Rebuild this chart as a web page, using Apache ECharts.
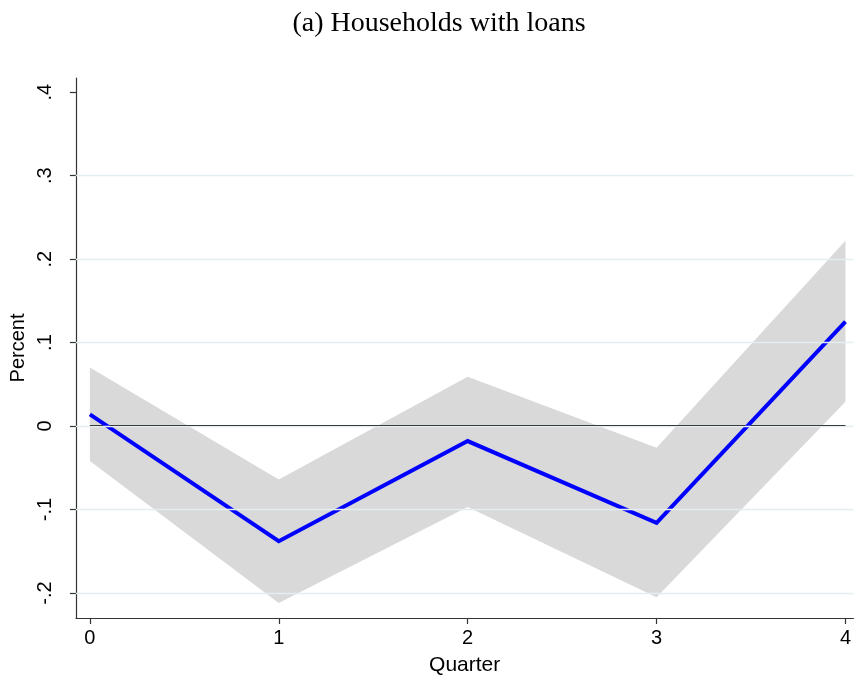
<!DOCTYPE html>
<html>
<head>
<meta charset="utf-8">
<script src="https://cdn.jsdelivr.net/npm/echarts@6/dist/echarts.min.js"></script>
<style>
html,body{margin:0;padding:0;background:#fff;}
#chart{width:854px;height:681px;}
</style>
</head>
<body>
<div id="chart"></div>
<script>
const quarters = [0, 1, 2, 3, 4];
const estimate = [0.014, -0.138, -0.018, -0.116, 0.125];
const upper = [0.070, -0.064, 0.059, -0.026, 0.222];
const lower = [-0.042, -0.212, -0.097, -0.205, 0.029];
const yTickValues = [-0.2, -0.1, 0, 0.1, 0.2, 0.3, 0.4];
const yTickLabels = ['-.2', '-.1', '0', '.1', '.2', '.3', '.4'];
const gridValues = [-0.2, -0.1, 0, 0.1, 0.2, 0.3];
const xTickLabels = ['0', '1', '2', '3', '4'];

const bandData = quarters.map((q, i) => [q, lower[i], upper[i]]);
const lineData = quarters.map((q, i) => [q, estimate[i]]);
const zeroData = [[quarters[0], 0], [quarters[quarters.length - 1], 0]];

const chart = echarts.init(document.getElementById('chart'), null, {renderer: 'canvas'});
const labelFont = '"Liberation Sans", Arial, sans-serif';

chart.setOption({
  animation: false,
  backgroundColor: '#ffffff',
  title: {
    text: '(a) Households with loans',
    left: 434,
    top: 5,
    textAlign: 'center',
    textStyle: {fontFamily: '"Liberation Serif", "Times New Roman", serif', fontSize: 28, fontWeight: 'normal', color: '#000'}
  },
  grid: {left: 74, top: 78, right: 0, bottom: 62, containLabel: false},
  xAxis: {
    type: 'value',
    min: -0.074,
    max: 4.042,
    name: 'Quarter',
    nameLocation: 'middle',
    nameGap: 37,
    nameTextStyle: {fontFamily: labelFont, fontSize: 21, color: '#000'},
    axisLine: {show: true, onZero: false, lineStyle: {color: '#333', width: 1.2}},
    axisTick: {show: true, length: 6, customValues: quarters, lineStyle: {color: '#333', width: 1.2}},
    axisLabel: {
      customValues: quarters,
      margin: 10,
      fontFamily: labelFont, fontSize: 20, color: '#000',
      formatter: v => xTickLabels[quarters.indexOf(Math.round(v))]
    },
    splitLine: {show: false}
  },
  yAxis: {
    type: 'value',
    min: -0.23,
    max: 0.417,
    name: 'Percent',
    nameLocation: 'middle',
    nameGap: 46,
    nameRotate: 90,
    nameTextStyle: {fontFamily: labelFont, fontSize: 20, color: '#000'},
    axisLine: {show: true, onZero: false, lineStyle: {color: '#333', width: 1.2}},
    axisTick: {show: true, length: 6, customValues: yTickValues, lineStyle: {color: '#333', width: 1.2}},
    axisLabel: {
      customValues: yTickValues,
      rotate: 90,
      margin: 20,
      fontFamily: labelFont, fontSize: 20, color: '#000',
      formatter: v => {
        let best = 0;
        yTickValues.forEach((t, i) => { if (Math.abs(t - v) < Math.abs(yTickValues[best] - v)) best = i; });
        return yTickLabels[best];
      }
    },
    splitLine: {show: false}
  },
  series: [
    {
      type: 'line',
      data: [],
      z: 1,
      silent: true,
      markLine: {
        silent: true,
        symbol: ['none', 'none'],
        label: {show: false},
        lineStyle: {color: '#e4eef0', width: 1.3, type: 'solid'},
        data: gridValues.map(v => ({yAxis: v}))
      }
    },
    {
      type: 'custom',
      z: 2,
      silent: true,
      renderItem: function (params, api) {
        if (params.dataIndex !== 0) return null;
        const top = bandData.map(d => api.coord([d[0], d[2]]));
        const bot = bandData.map(d => api.coord([d[0], d[1]])).reverse();
        return {
          type: 'polygon',
          shape: {points: top.concat(bot)},
          style: {fill: '#d9d9d9', stroke: null}
        };
      },
      data: bandData,
      encode: {x: 0, y: [1, 2]}
    },
    {
      type: 'line',
      z: 3,
      data: zeroData,
      symbol: 'none',
      silent: true,
      lineStyle: {color: '#000', width: 2}
    },
    {
      type: 'line',
      z: 4,
      data: lineData,
      symbol: 'none',
      silent: true,
      lineStyle: {color: '#0000ff', width: 4, join: 'miter'}
    }
  ]
});
</script>
</body>
</html>
